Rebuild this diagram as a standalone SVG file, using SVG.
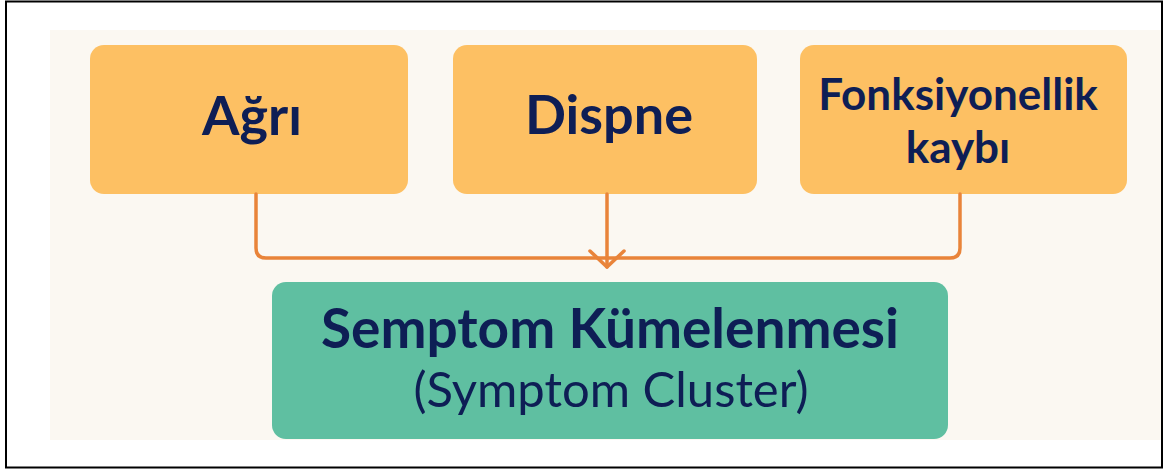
<svg xmlns="http://www.w3.org/2000/svg" width="1167" height="470" viewBox="0 0 1167 470">
<style>
.sym{fill:#FDC063}
.res{fill:#5FBFA1}
.t{font-family:Lato,"Noto Sans","Liberation Sans",sans-serif;fill:#0E1E55;text-anchor:middle}
.b{font-weight:700}
.conn{fill:none;stroke:#E9843A;stroke-width:3.5;stroke-linecap:round;stroke-linejoin:round}
</style>
<rect x="0" y="0" width="1167" height="470" fill="#FFFFFF"/>
<rect x="50" y="30" width="1111" height="410" fill="#FBF8F2"/>
<rect x="6" y="1.5" width="1156" height="466" fill="none" stroke="#000" stroke-width="2"/>
<g id="agri">
<rect class="sym" x="90" y="45" width="318" height="149" rx="14"/>
<text class="t b" x="252" y="135" font-size="54">Ağrı</text>
</g>
<g id="dispne">
<rect class="sym" x="453" y="45" width="304" height="149" rx="14"/>
<text class="t b" x="609" y="134" font-size="54">Dispne</text>
</g>
<g id="fonksiyonellik">
<rect class="sym" x="800" y="45" width="327" height="149" rx="14"/>
<text class="t b" x="958" y="110" font-size="44">Fonksiyonellik</text>
<text class="t b" x="958" y="163" font-size="44">kaybı</text>
</g>
<g id="semptom">
<rect class="res" x="272" y="282" width="676" height="157" rx="14"/>
<text class="t b" x="610" y="348" font-size="55">Semptom Kümelenmesi</text>
<text class="t" x="611" y="407" font-size="49">(Symptom Cluster)</text>
</g>
<g id="connectors">
<path class="conn" d="M256 194 V248 Q256 258 266 258 H950 Q960 258 960 248 V194"/>
<path class="conn" d="M607 194 V267"/>
<path class="conn" d="M590 251 L607 267 L624 251"/>
</g>
</svg>
